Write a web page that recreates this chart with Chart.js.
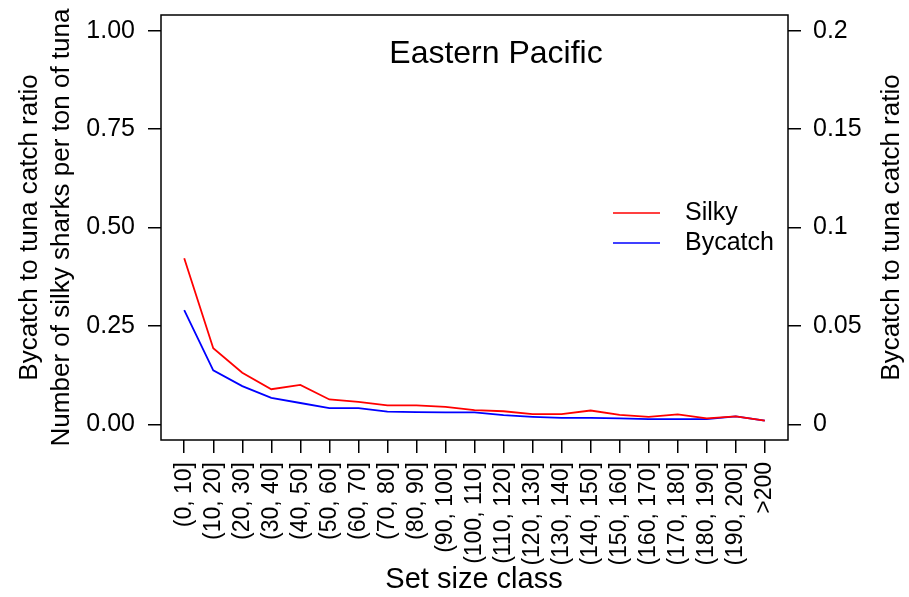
<!DOCTYPE html>
<html>
<head>
<meta charset="utf-8">
<script src="https://cdn.jsdelivr.net/npm/chart.js@4.4.1/dist/chart.umd.min.js"></script>
<style>
  html, body { margin: 0; padding: 0; background: #fff; }
  #wrap { width: 909px; height: 597px; position: relative; }
</style>
</head>
<body>
<div id="wrap"><canvas id="chart"></canvas></div>
<script>
const FONT = '"Liberation Sans", Arial, Helvetica, sans-serif';

const categories = ['(0, 10]', '(10, 20]', '(20, 30]', '(30, 40]', '(40, 50]', '(50, 60]', '(60, 70]',
  '(70, 80]', '(80, 90]', '(90, 100]', '(100, 110]', '(110, 120]', '(120, 130]', '(130, 140]',
  '(140, 150]', '(150, 160]', '(160, 170]', '(170, 180]', '(180, 190]', '(190, 200]', '>200'];

// silky sharks per ton of tuna (left axis)
const silky = [0.422, 0.193, 0.131, 0.089, 0.100, 0.063, 0.057, 0.048, 0.048, 0.044, 0.036,
  0.033, 0.026, 0.026, 0.035, 0.024, 0.019, 0.025, 0.015, 0.020, 0.009];

// bycatch to tuna catch ratio (right axis)
const bycatch = [0.058, 0.0274, 0.0194, 0.0134, 0.0108, 0.0082, 0.0082, 0.0064, 0.0062, 0.0060, 0.0060,
  0.0046, 0.0038, 0.0032, 0.0032, 0.0030, 0.0026, 0.0026, 0.0026, 0.0040, 0.0018];

const leftTicks = [0, 0.25, 0.5, 0.75, 1];
const rightTicks = [0, 0.05, 0.1, 0.15, 0.2];
const rightTickLabels = ['0', '0.05', '0.1', '0.15', '0.2'];

const titleText = 'Eastern Pacific';
const xTitle = 'Set size class';
const yTitleOuter = 'Bycatch to tuna catch ratio';
const yTitleInner = 'Number of silky sharks per ton of tuna';
const y2Title = 'Bycatch to tuna catch ratio';

const toPoints = arr => arr.map((v, i) => ({ x: i, y: v }));

// box, in-plot title, legend and axis titles drawn the way R does
const extras = {
  id: 'extras',
  afterDraw(chart) {
    const { ctx, chartArea: a } = chart;
    ctx.save();
    ctx.strokeStyle = '#000';
    ctx.lineWidth = 1.5;
    ctx.strokeRect(a.left, a.top, a.right - a.left, a.bottom - a.top);

    ctx.fillStyle = '#000';
    ctx.textAlign = 'center';
    ctx.textBaseline = 'middle';
    ctx.font = '32px ' + FONT;
    ctx.fillText(titleText, 496, 54);

    ctx.font = '29px ' + FONT;
    ctx.fillText(xTitle, 474, 580);

    const midY = (a.top + a.bottom) / 2;
    ctx.font = '26px ' + FONT;
    [[yTitleOuter, 30], [yTitleInner, 62], [y2Title, 892]].forEach(([t, x]) => {
      ctx.save();
      ctx.translate(x, midY);
      ctx.rotate(-Math.PI / 2);
      ctx.fillText(t, 0, 0);
      ctx.restore();
    });

    // legend
    ctx.font = '25px ' + FONT;
    ctx.textAlign = 'left';
    chart.data.datasets.forEach((ds, i) => {
      const y = 213 + i * 30;
      ctx.strokeStyle = ds.borderColor;
      ctx.lineWidth = 1.6;
      ctx.beginPath();
      ctx.moveTo(613, y);
      ctx.lineTo(660, y);
      ctx.stroke();
      ctx.fillText(ds.label, 685, y);
    });
    ctx.restore();
  }
};

const yTickFont = { family: FONT, size: 25 };
const xTickFont = { family: FONT, size: 23 };
const tickGrid = { drawOnChartArea: false, drawTicks: true, tickLength: 13, color: '#000', lineWidth: 1.5 };

new Chart(document.getElementById('chart').getContext('2d'), {
  type: 'line',
  data: {
    datasets: [{
      label: 'Silky',
      data: toPoints(silky),
      borderColor: '#ff0000',
      borderWidth: 1.8,
      pointRadius: 0,
      tension: 0,
      yAxisID: 'y'
    }, {
      label: 'Bycatch',
      data: toPoints(bycatch),
      borderColor: '#0000ff',
      borderWidth: 1.8,
      pointRadius: 0,
      tension: 0,
      yAxisID: 'y2'
    }]
  },
  options: {
    responsive: true,
    maintainAspectRatio: false,
    animation: false,
    layout: { padding: { top: 15, left: 0, right: 0, bottom: 0 } },
    plugins: {
      legend: { display: false },
      title: { display: false },
      tooltip: { enabled: false }
    },
    scales: {
      x: {
        type: 'linear',
        min: -0.8,
        max: 20.8,
        afterBuildTicks: s => { s.ticks = categories.map((c, i) => ({ value: i })); },
        afterFit: s => { s.height = 157; s.paddingLeft = 0; s.paddingRight = 0; },
        grid: tickGrid,
        border: { display: false },
        ticks: {
          autoSkip: false,
          minRotation: 90,
          maxRotation: 90,
          padding: 9,
          color: '#000',
          font: xTickFont,
          callback: v => categories[v]
        }
      },
      y: {
        position: 'left',
        min: -0.04,
        max: 1.04,
        afterBuildTicks: s => { s.ticks = leftTicks.map(v => ({ value: v })); },
        afterFit: s => { s.width = 161; s.paddingTop = 0; s.paddingBottom = 0; },
        grid: tickGrid,
        border: { display: false },
        ticks: { padding: 13, color: '#000', font: yTickFont, callback: v => v.toFixed(2) }
      },
      y2: {
        position: 'right',
        min: -0.008,
        max: 0.208,
        afterBuildTicks: s => { s.ticks = rightTicks.map(v => ({ value: v })); },
        afterFit: s => { s.width = 121; s.paddingTop = 0; s.paddingBottom = 0; },
        grid: tickGrid,
        border: { display: false },
        ticks: {
          padding: 12,
          color: '#000',
          font: yTickFont,
          callback: v => rightTickLabels[rightTicks.indexOf(v)]
        }
      }
    }
  },
  plugins: [extras]
});
</script>
</body>
</html>
